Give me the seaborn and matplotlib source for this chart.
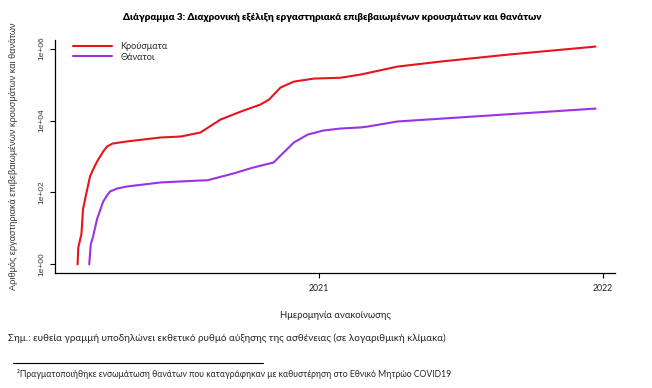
import pandas as pd
import matplotlib.pyplot as plt
import seaborn as sns
from matplotlib.lines import Line2D

# values (cumulative counts, log scale)
case_dates = ["2020-02-26", "2020-02-27", "2020-03-02", "2020-03-04", "2020-03-08",
              "2020-03-13", "2020-03-17", "2020-03-22", "2020-03-30", "2020-04-04",
              "2020-04-11", "2020-04-30", "2020-06-12", "2020-07-08", "2020-08-02",
              "2020-08-28", "2020-09-23", "2020-10-18", "2020-10-29", "2020-11-13",
              "2020-11-30", "2020-12-26", "2021-01-29", "2021-02-24", "2021-04-12",
              "2021-06-06", "2021-09-01", "2021-12-23"]
case_values = [1, 3, 7, 34, 88, 277, 437, 720, 1380, 1900, 2290, 2630, 3380, 3600, 4650,
               10700, 17800, 27800, 38000, 83000, 121000, 147000, 155000, 190000, 316000,
               435000, 680000, 1140000]

death_dates = ["2020-03-12", "2020-03-14", "2020-03-17", "2020-03-22", "2020-03-30",
               "2020-04-04", "2020-04-08", "2020-04-17", "2020-04-30", "2020-06-12",
               "2020-08-02", "2020-08-11", "2020-09-14", "2020-10-09", "2020-11-04",
               "2020-11-17", "2020-11-30", "2020-12-18", "2021-01-07", "2021-01-29",
               "2021-02-24", "2021-03-05", "2021-04-12", "2021-12-23"]
death_values = [1, 3.6, 6, 18, 56, 83, 107, 129, 147, 190, 215, 218, 340, 495, 680, 1290,
                2440, 4080, 5270, 6000, 6430, 6800, 9400, 21500]

series_names = ["Κρούσματα", "Θάνατοι"]
series_colors = ["#E8141B", "#9A32E6"]
y_ticks = [1, 1e2, 1e4, 1e6]
y_tick_labels = ["1e+00", "1e+02", "1e+04", "1e+06"]
x_ticks = ["2021-01-01", "2022-01-01"]
x_tick_labels = ["2021", "2022"]

title = "Διάγραμμα 3: Διαχρονική εξέλιξη εργαστηριακά επιβεβαιωμένων κρουσμάτων και θανάτων"
y_label = "Αριθμός εργαστηριακά επιβεβαιωμένων κρουσμάτων και θανάτων"
x_label = "Ημερομηνία ανακοίνωσης"
note = "Σημ.: ευθεία γραμμή υποδηλώνει εκθετικό ρυθμό αύξησης της ασθένειας (σε λογαριθμική κλίμακα)"
footnote = "²Πραγματοποιήθηκε ενσωμάτωση θανάτων που καταγράφηκαν με καθυστέρηση στο Εθνικό Μητρώο COVID19"

df = pd.concat([
    pd.DataFrame({"date": pd.to_datetime(case_dates), "value": case_values, "series": series_names[0]}),
    pd.DataFrame({"date": pd.to_datetime(death_dates), "value": death_values, "series": series_names[1]}),
])

sns.set_style("white")
plt.rcParams["font.family"] = ["Lato", "DejaVu Sans"]

W, H = 652, 388
fig = plt.figure(figsize=(W / 100, H / 100), dpi=100)
ax = fig.add_axes([55 / W, 1 - 273 / H, 560 / W, 233 / H])

sns.lineplot(data=df, x="date", y="value", hue="series", palette=series_colors,
             hue_order=series_names, linewidth=1.5, sort=False, ax=ax)

ax.set_yscale("log")
ax.set_ylim(10 ** -0.24, 10 ** 6.24)
ax.set_xlim(pd.Timestamp("2020-01-28"), pd.Timestamp("2022-01-17"))
ax.minorticks_off()

ax.set_yticks(y_ticks)
ax.set_yticklabels(y_tick_labels, rotation=90, va="center",
                   family=["Liberation Sans", "DejaVu Sans"], fontsize=6, color="#333333")
ax.set_xticks(pd.to_datetime(x_ticks))
ax.set_xticklabels(x_tick_labels, fontsize=6.3, color="#222222")
ax.tick_params(axis="both", which="major", direction="out", length=3.6, width=0.8,
               color="black", left=True, bottom=True)
ax.tick_params(axis="y", pad=3)
ax.tick_params(axis="x", pad=4)

sns.despine(ax=ax)
for side in ["left", "bottom"]:
    ax.spines[side].set_color("black")
    ax.spines[side].set_linewidth(0.9)

ax.set_xlabel(x_label, fontsize=6.8, color="#222222")
ax.xaxis.set_label_coords(0.5, -0.163)
ax.set_ylabel(y_label, fontsize=6.6, color="#333333", family=["Liberation Sans", "DejaVu Sans"])
ax.yaxis.set_label_coords(-0.066, 0.5)

ax.legend(loc="upper left", bbox_to_anchor=(0.032, 0.99), frameon=False,
          handlelength=4.3, handletextpad=0.9, labelspacing=0.15, borderaxespad=0,
          borderpad=0, fontsize=6.6)

fig.text(332 / W, 1 - 18 / H, title, ha="center", va="center", fontsize=7.1,
         fontweight="heavy", color="black")
fig.text(8 / W, 1 - 338 / H, note, ha="left", va="center", fontsize=7.15)
fig.add_artist(Line2D([13 / W, 263 / W], [1 - 363 / H, 1 - 363 / H], color="black", linewidth=0.8))
fig.text(17 / W, 1 - 374 / H, footnote, ha="left", va="center", fontsize=6.2)

fig.savefig("out.png", dpi=100)
